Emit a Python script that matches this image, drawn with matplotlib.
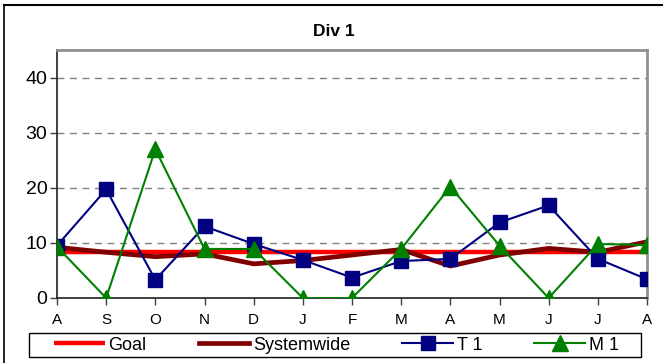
import matplotlib
matplotlib.use("Agg")
import matplotlib.pyplot as plt
from matplotlib.lines import Line2D
from matplotlib.patches import Rectangle

plt.rcParams['font.family'] = ['Liberation Sans', 'DejaVu Sans']

months = ["A", "S", "O", "N", "D", "J", "F", "M", "A", "M", "J", "J", "A"]
goal = [8.3] * 13
systemwide = [9.2, 8.3, 7.5, 8.0, 6.2, 6.8, 7.8, 8.8, 5.8, 7.8, 9.0, 8.3, 10.2]
t1 = [9.5, 19.7, 3.3, 13.0, 9.8, 6.9, 3.7, 6.7, 7.1, 13.7, 16.8, 7.1, 3.4]
m1 = [9.3, 0, 27.0, 8.9, 8.9, 0, 0, 8.9, 20.2, 9.5, 0, 9.8, 9.6]
yticks = [0, 10, 20, 30, 40]

W, H = 663, 363
fig = plt.figure(figsize=(W / 100, H / 100), dpi=100)
ax = fig.add_axes([57 / W, 1 - 298 / H, (647 - 57) / W, (298 - 50) / H])

x = list(range(len(months)))
ax.plot(x, goal, color="#FF0000", lw=3.2, label="Goal", zorder=3, solid_capstyle="butt")
ax.plot(x, systemwide, color="#800000", lw=3.4, label="Systemwide", zorder=4)
ax.plot(x, t1, color="#000080", lw=1.5, marker="s", ms=10, label="T 1", zorder=5)
ax.plot(x, m1, color="#008000", lw=1.5, marker="^", ms=11, label="M 1", zorder=6)

ax.set_xlim(0, 12)
ax.set_ylim(0, 45)
ax.set_xticks(x)
ax.set_xticklabels(months, fontsize=11)
ax.set_yticks(yticks)
ax.set_yticklabels([str(v) for v in yticks], fontsize=14)
ax.yaxis.grid(True, color="#808080", linestyle=(0, (5, 4)), lw=1)
ax.set_axisbelow(True)
ax.tick_params(axis="y", direction="out", length=5, width=1, color="#404040", pad=2)
ax.tick_params(axis="x", direction="out", length=5, width=1, color="#404040", pad=6)
for s in ["left", "bottom"]:
    ax.spines[s].set_color("#202020")
    ax.spines[s].set_linewidth(1.2)
for s in ["top", "right"]:
    ax.spines[s].set_color("#909090")
    ax.spines[s].set_linewidth(2)

fig.text(334 / W, 1 - 32 / H, "Div 1", ha="center", va="center", fontsize=12.5, fontweight="bold")

leg = fig.legend(loc="center left", ncol=4, bbox_to_anchor=(54 / W, 1 - 345 / H),
                 fontsize=13, frameon=False, handlelength=2.8,
                 columnspacing=2.9, handletextpad=0.2, borderpad=0, borderaxespad=0)

fig.add_artist(Rectangle((29 / W, 1 - 357 / H), (641 - 29) / W, 24 / H,
                         transform=fig.transFigure, fill=False, edgecolor="black", lw=1))

# outer chart border (top and left visible)
fig.add_artist(Line2D([4 / W, 1], [1 - 5 / H, 1 - 5 / H], color="black", lw=1.5, transform=fig.transFigure))
fig.add_artist(Line2D([4 / W, 4 / W], [0, 1 - 5 / H], color="black", lw=1.2, transform=fig.transFigure))

fig.savefig("out.png", dpi=100)
